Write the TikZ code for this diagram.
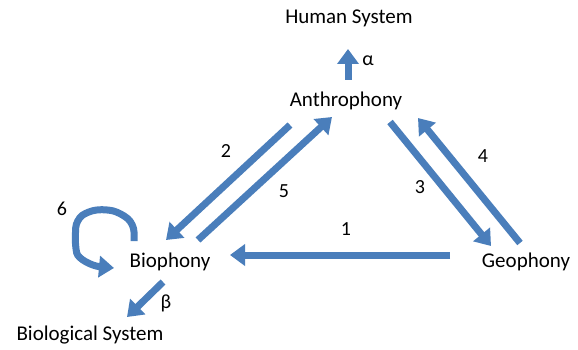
\documentclass[tikz,border=0pt]{standalone}
\usepackage{fontspec}
\setmainfont{Carlito}
\usetikzlibrary{arrows.meta}
\definecolor{arr}{RGB}{74,126,187}
\tikzset{
  flow/.style={draw=arr, line width=7pt, -{Triangle[width=21pt,length=15pt]}},
  lbl/.style={font=\fontsize{21}{24}\selectfont, inner sep=0pt, text=black},
  num/.style={font=\fontsize{20}{23}\selectfont, inner sep=0pt, text=black}
}
\begin{document}
\begin{tikzpicture}[x=1pt,y=-1pt]
\useasboundingbox (0,0) rectangle (578,350);
\node[lbl] (hs) at (349,18) {Human System};
\node[lbl] (an) at (346,101) {Anthrophony};
\node[lbl] (bi) at (170,262) {Biophony};
\node[lbl] (ge) at (526,262) {Geophony};
\node[lbl] (bs) at (90,335) {Biological System};

\coordinate (a1) at (348,80); \coordinate (a2) at (348,49);
\draw[flow] (a1) -- (a2);
\node[num] (al) at (368,61) {α};

\coordinate (s2) at (290,125); \coordinate (e2) at (166,240);
\draw[flow] (s2) -- (e2);
\coordinate (s5) at (198,240); \coordinate (e5) at (332,117);
\draw[flow] (s5) -- (e5);
\node[num] (n2) at (226,151) {2};
\node[num] (n5) at (284,191) {5};

\coordinate (s3) at (390,122); \coordinate (e3) at (491,246);
\draw[flow] (s3) -- (e3);
\coordinate (s4) at (520,243); \coordinate (e4) at (418,118);
\draw[flow] (s4) -- (e4);
\node[num] (n3) at (420,187) {3};
\node[num] (n4) at (483,156) {4};

\coordinate (s1) at (450,255); \coordinate (e1) at (230,255);
\draw[flow] (s1) -- (e1);
\node[num] (n1) at (346,229) {1};

\coordinate (l0) at (134,241); \coordinate (l1) at (114,268);
\draw[flow, rounded corners=8pt] (l0) -- (134,224) -- (121,213) -- (106,209) -- (88,211) -- (76,220) -- (75,245) .. controls (78,259) and (92,266) .. (l1);
\node[num] (n6) at (62,209) {6};

\coordinate (b0) at (163,282); \coordinate (b1) at (127,317);
\draw[flow] (b0) -- (b1);
\node[num] (be) at (166,303) {β};
\end{tikzpicture}
\end{document}
